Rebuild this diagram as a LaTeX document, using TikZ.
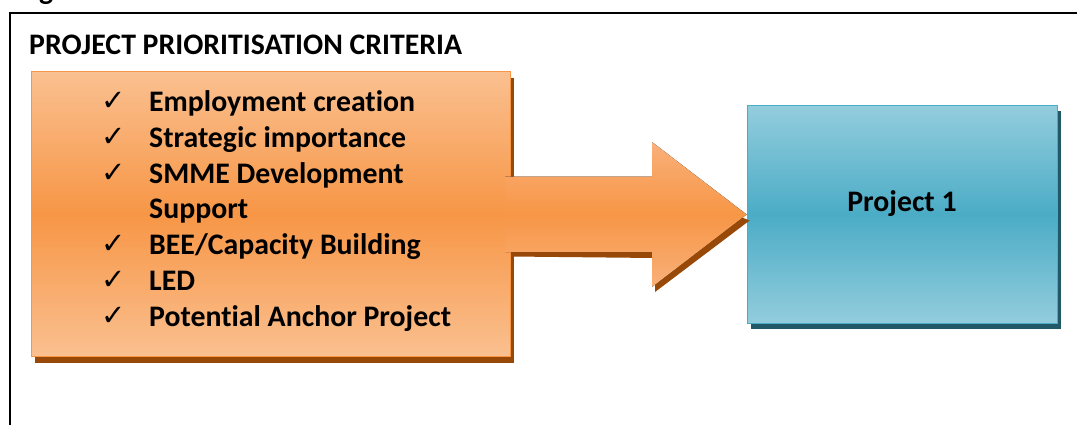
\documentclass[tikz,border=0pt]{standalone}
\usepackage{fontspec}
\setmainfont{Carlito}[Ligatures=NoCommon]
\newfontfamily\dejavu{DejaVu Sans}
\usetikzlibrary{calc,shadows}
\definecolor{olight}{HTML}{FAC090}
\definecolor{omid}{HTML}{F79646}
\definecolor{oarrlight}{HTML}{F9B07A}
\definecolor{oshadow}{HTML}{984807}
\definecolor{blight}{HTML}{93CDDD}
\definecolor{bmid}{HTML}{4BACC6}
\definecolor{bshadow}{HTML}{215968}
\begin{document}
\begin{tikzpicture}[x=1pt,y=-1pt,
  txt/.style={anchor=base west, inner sep=0pt, font=\bfseries\fontsize{29.8}{35}\selectfont},
  chk/.style={anchor=base west, inner sep=0pt, font=\dejavu\fontsize{29}{30}\selectfont},
  obox/.style={draw=omid, line width=1.5pt, top color=olight, bottom color=olight, middle color=omid,
    drop shadow={shadow xshift=3pt, shadow yshift=-6pt, fill=oshadow, opacity=1}},
  bbox/.style={draw=bmid, line width=1.8pt, top color=blight, bottom color=blight, middle color=bmid,
    drop shadow={shadow xshift=3.5pt, shadow yshift=-5.5pt, fill=bshadow, opacity=1}},
  arrfill/.style={top color=oarrlight, bottom color=oarrlight, middle color=omid},
  arrshadow/.style={fill=oshadow}
]
\useasboundingbox (0,0) rectangle (1077,424);
\fill[white] (0,0) rectangle (1077,424);

% cut-off caption fragment
\begin{scope}
\clip (0,0) rectangle (1077,13);
\node[txt] (cap) at (39,-1) {g};
\end{scope}

% frame
\draw[line width=1.8pt] (10,430) -- (10,13) -- (1085,13);

% title
\node[txt] (title) at (29,54) {PROJECT PRIORITISATION CRITERIA};

% boxes
\node[obox, minimum width=479pt, minimum height=285pt, inner sep=0pt] (crit) at (271,214) {};
\node[bbox, minimum width=310pt, minimum height=218pt, inner sep=0pt] (proj) at (902.5,214.5) {};

% arrow shadow
\coordinate (hb) at (652,0);
\fill[arrshadow]
  ($(crit.east)+(0,42.5)$) -- ($(crit.east)+(0,-31.5)$) -- ($(crit.east |- 0,183)+(144,0)$)
  -- ($(hb |- 0,183)+(3,0)$) -- ($(proj.west)+(3,6)$) -- ($(hb |- 0,292)+(3,0)$)
  -- ($(hb |- 0,258)+(3,0)$) -- cycle;
% arrow
\fill[arrfill]
  ($(crit.east)+(-6,-37.5)$) -- ($(hb |- 0,176.5)$) -- ($(hb |- 0,142)$)
  -- (proj.west) -- ($(hb |- 0,287)$) -- ($(hb |- 0,252)$)
  -- ($(crit.east)+(-6,38)$) -- cycle;

% criteria list
\node[chk] (c1) at (101,110.5) {✓};
\node[txt] (t1) at (149,111.5) {Employment creation};
\node[chk] (c2) at (101,146.3) {✓};
\node[txt] (t2) at (149,147.3) {Strategic importance};
\node[chk] (c3) at (101,182.1) {✓};
\node[txt] (t3) at (149,183.1) {SMME Development};
\node[txt] (t3b) at (149,218.9) {Support};
\node[chk] (c4) at (101,253.7) {✓};
\node[txt] (t4) at (149,254.7) {BEE/Capacity Building};
\node[chk] (c5) at (101,289.5) {✓};
\node[txt] (t5) at (149,290.5) {LED};
\node[chk] (c6) at (101,325.3) {✓};
\node[txt] (t6) at (149,326.3) {Potential Anchor Project};

% project label
\node[txt, anchor=base] (p1) at (902,211.7) {Project 1};
\end{tikzpicture}
\end{document}
